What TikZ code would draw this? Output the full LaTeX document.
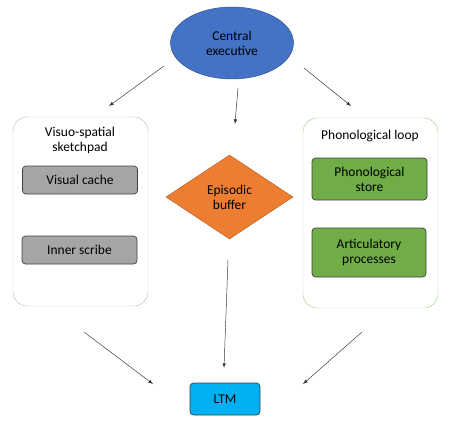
\documentclass[tikz,border=0pt]{standalone}
\usepackage{fontspec}
\setmainfont{Carlito}
\usetikzlibrary{shapes.geometric}
\definecolor{execblue}{HTML}{4472C4}
\definecolor{bufforange}{HTML}{ED7D31}
\definecolor{loopgreen}{HTML}{70AD47}
\definecolor{cachegray}{HTML}{A5A5A5}
\definecolor{ltmcyan}{HTML}{00B0F0}
\tikzset{
  subbox/.style={draw=black!75, semithick, rounded corners=3pt, align=center, inner sep=0pt},
  panel/.style={rounded corners=12pt, inner sep=0pt},
  link/.style={->, >=latex, black!80, thin},
}
\begin{document}
\begin{tikzpicture}[x=0.3mm, y=-0.3mm, font=\fontsize{11.5}{12.8}\selectfont]
			\useasboundingbox (0,0) rectangle (452,428);
			\node[ellipse, draw=execblue!70!black, fill=execblue, minimum width=123*0.3mm, minimum height=72*0.3mm, align=center, inner sep=0pt] (exec) at (232,43) {Central\\executive};
			\node[panel, draw=black!25, minimum width=135*0.3mm, minimum height=189*0.3mm] (visuo) at (80.5,211.5) {};
			\node[align=center] (visuotitle) at (80,140) {Visuo-spatial\\sketchpad};
			\node[subbox, fill=cachegray, minimum width=115*0.3mm, minimum height=28*0.3mm] (cache) at (80,180) {Visual cache};
			\node[subbox, fill=cachegray, minimum width=115*0.3mm, minimum height=28*0.3mm] (scribe) at (79.5,250) {Inner scribe};
			\node[diamond, draw=bufforange!75!black, fill=bufforange, minimum width=127*0.3mm, minimum height=84*0.3mm, align=center, inner sep=0pt] (buffer) at (229.5,197) {Episodic\\buffer};
			\node[panel, draw=loopgreen!60, minimum width=135*0.3mm, minimum height=190*0.3mm] (loop) at (370.5,213) {};
			\node (looptitle) at (370,136) {Phonological loop};
			\node[subbox, fill=loopgreen, minimum width=115*0.3mm, minimum height=42*0.3mm] (store) at (369.5,179) {Phonological\\store};
			\node[subbox, fill=loopgreen, minimum width=114*0.3mm, minimum height=49*0.3mm] (artic) at (369,252.5) {Articulatory\\processes};
			\node[subbox, fill=ltmcyan, minimum width=70*0.3mm, minimum height=32*0.3mm] (ltm) at (225,399) {LTM};
			% arrows, free ends
			\coordinate (a1) at (164,66);  \coordinate (b1) at (109,106);
			\coordinate (a2) at (238,88);  \coordinate (b2) at (235,124);
			\coordinate (a3) at (304,68);  \coordinate (b3) at (351,106);
			\coordinate (a4) at (84,332);  \coordinate (b4) at (153,384);
			\coordinate (a5) at (228,260); \coordinate (b5) at (224,368);
			\coordinate (a6) at (362,332); \coordinate (b6) at (303,384);
			\foreach \i in {1,...,6}
				\draw[link] (a\i) -- (b\i);
			\end{tikzpicture}
\end{document}
